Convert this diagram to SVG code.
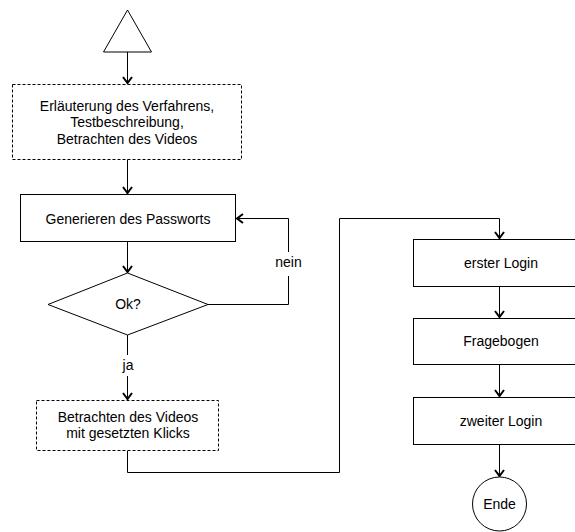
<svg xmlns="http://www.w3.org/2000/svg" width="575" height="532" viewBox="0 0 575 532">
  <style>
    .shape { fill: #fff; stroke: #000; stroke-width: 1; }
    .dashed { stroke-dasharray: 3 2; }
    .edge { fill: none; stroke: #000; stroke-width: 1; }
    .lbl { font-family: "Liberation Sans", Arial, sans-serif; font-size: 14px; fill: #000; text-anchor: middle; dominant-baseline: central; }
    .bg { fill: #fff; stroke: none; }
  </style>
  <defs>
    <marker id="arr" markerUnits="userSpaceOnUse" viewBox="-9 -6 11 12" markerWidth="11" markerHeight="12" refX="0" refY="0" orient="auto">
      <path d="M-6,-4.5 L0,0 L-6,4.5" fill="none" stroke="#000" stroke-width="2"/>
    </marker>
  </defs>

  <g id="connectors">
    <path class="edge" d="M127.5,52 V83" marker-end="url(#arr)"/>
    <path class="edge" d="M127.5,159 V193" marker-end="url(#arr)"/>
    <path class="edge" d="M127.5,242 V272" marker-end="url(#arr)"/>
    <path class="edge" d="M208,304.5 H288.5 V218.5 H237" marker-end="url(#arr)"/>
    <rect class="bg" x="272" y="252" width="33" height="24"/>
    <text class="lbl" x="288.5" y="262">nein</text>
    <path class="edge" d="M127.5,335 V399" marker-end="url(#arr)"/>
    <rect class="bg" x="117" y="355" width="22" height="21"/>
    <text class="lbl" x="128" y="365">ja</text>
    <path class="edge" d="M127.5,451 V472.5 H339.5 V218.5 H499.5 V238" marker-end="url(#arr)"/>
    <path class="edge" d="M499.5,287 V317" marker-end="url(#arr)"/>
    <path class="edge" d="M499.5,364 V396" marker-end="url(#arr)"/>
    <path class="edge" d="M499.5,444 V476" marker-end="url(#arr)"/>
  </g>

  <g id="start">
    <polygon class="shape" points="127.5,10 103.5,52 151.5,52"/>
  </g>

  <g id="erlaeuterung">
    <rect class="shape dashed" x="12.5" y="84.5" width="229" height="75"/>
    <text class="lbl" x="127" y="106">Erläuterung des Verfahrens,</text>
    <text class="lbl" x="127" y="122">Testbeschreibung,</text>
    <text class="lbl" x="127" y="139">Betrachten des Videos</text>
  </g>

  <g id="passwort">
    <rect class="shape" x="20.5" y="194.5" width="215" height="47"/>
    <text class="lbl" x="128" y="219">Generieren des Passworts</text>
  </g>

  <g id="ok">
    <polygon class="shape" points="127.5,273 208,304.5 127.5,335 48,304.5"/>
    <text class="lbl" x="128" y="304">Ok?</text>
  </g>

  <g id="video-klicks">
    <rect class="shape dashed" x="36.5" y="400.5" width="182" height="50"/>
    <text class="lbl" x="128" y="417">Betrachten des Videos</text>
    <text class="lbl" x="128" y="433">mit gesetzten Klicks</text>
  </g>

  <g id="erster-login">
    <rect class="shape" x="413.5" y="239.5" width="172" height="47"/>
    <text class="lbl" x="501" y="263">erster Login</text>
  </g>

  <g id="fragebogen">
    <rect class="shape" x="413.5" y="318.5" width="172" height="46"/>
    <text class="lbl" x="501" y="341">Fragebogen</text>
  </g>

  <g id="zweiter-login">
    <rect class="shape" x="413.5" y="397.5" width="172" height="47"/>
    <text class="lbl" x="501" y="421">zweiter Login</text>
  </g>

  <g id="ende">
    <circle class="shape" cx="499.5" cy="504" r="27"/>
    <text class="lbl" x="499.5" y="504">Ende</text>
  </g>
</svg>
